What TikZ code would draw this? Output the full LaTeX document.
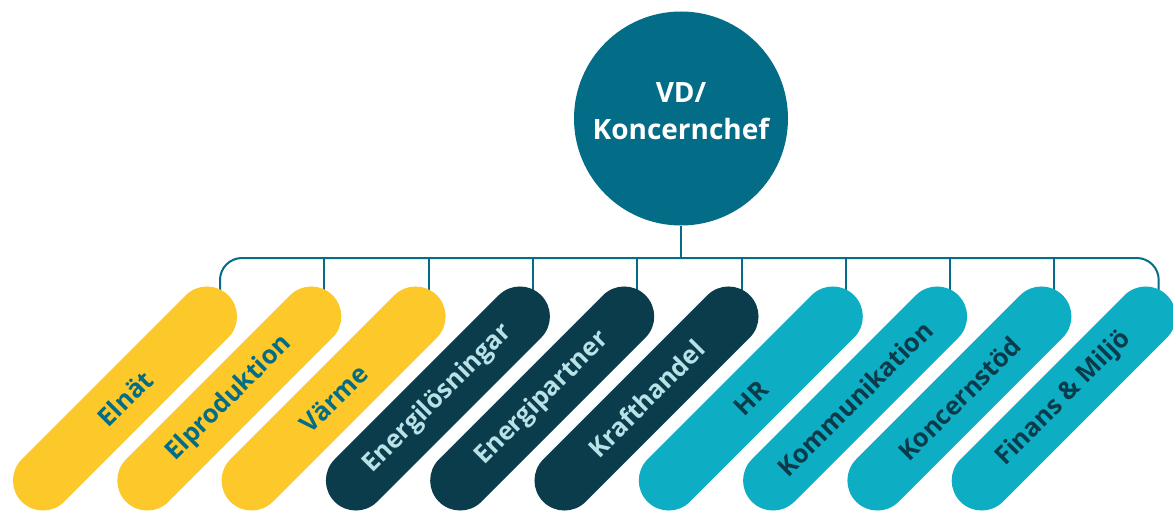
\documentclass[tikz,border=0pt]{standalone}
\usepackage{fontspec}
\setmainfont{Open Sans}
\definecolor{teal}{HTML}{036C86}
\definecolor{sun}{HTML}{FDC82A}
\definecolor{navy}{HTML}{0A3C4B}
\definecolor{cyan}{HTML}{0DAEC4}
\definecolor{pale}{HTML}{B8E2E8}
\definecolor{ink}{HTML}{0B3B4A}
\tikzset{
  pill/.style={rectangle, rounded corners=30pt, minimum width=292pt, minimum height=60pt,
    inner sep=0pt, rotate=45, font=\fontsize{25.5}{30}\selectfont\bfseries},
  yellowpill/.style={pill, fill=sun, text=teal},
  navypill/.style={pill, fill=navy, text=pale},
  cyanpill/.style={pill, fill=cyan, text=ink},
  wire/.style={draw=teal, line width=2pt},
}
\begin{document}
\begin{tikzpicture}[x=1pt,y=-1pt]
\useasboundingbox (0,0) rectangle (1173,511);
\clip (0,0) rectangle (1173,511);
\node[circle, fill=teal, minimum size=214pt, inner sep=0pt] (root) at (681,118.5) {};
\node[text=white, align=center, font=\fontsize{28}{37}\selectfont\bfseries] (roottext) at (681,111) {VD/\\Koncernchef};
\coordinate (busl) at (220,258);
\coordinate (busr) at (1158.7,258);
\coordinate (busm) at (681,258);
% pills positions
\foreach \i/\name/\txt/\sty in {0/p0/Elnät/yellowpill,1/p1/Elproduktion/yellowpill,2/p2/Värme/yellowpill,
  3/p3/Energilösningar/navypill,4/p4/Energipartner/navypill,5/p5/Krafthandel/navypill,
  6/p6/HR/cyanpill,7/p7/Kommunikation/cyanpill,8/p8/Koncernstöd/cyanpill,9/p9/Finans \& Miljö/cyanpill}{
  \coordinate (\name c) at ({125+104.3*\i},398.5);
  \coordinate (\name t) at ({220+104.3*\i},296);
}
\draw[wire] (root.south) -- (busm);
\draw[wire, rounded corners=22pt] (p0t) -- (busl) -- (busr) -- (p9t);
\foreach \n in {1,...,8}{
  \draw[wire] (p\n t |- busl) -- (p\n t);
}
\foreach \i/\name/\txt/\sty in {0/p0/Elnät/yellowpill,1/p1/Elproduktion/yellowpill,2/p2/Värme/yellowpill,
  3/p3/Energilösningar/navypill,4/p4/Energipartner/navypill,5/p5/Krafthandel/navypill,
  6/p6/HR/cyanpill,7/p7/Kommunikation/cyanpill,8/p8/Koncernstöd/cyanpill,9/p9/Finans \& Miljö/cyanpill}{
  \node[\sty] (\name) at (\name c) {\txt};
}
\end{tikzpicture}
\end{document}
